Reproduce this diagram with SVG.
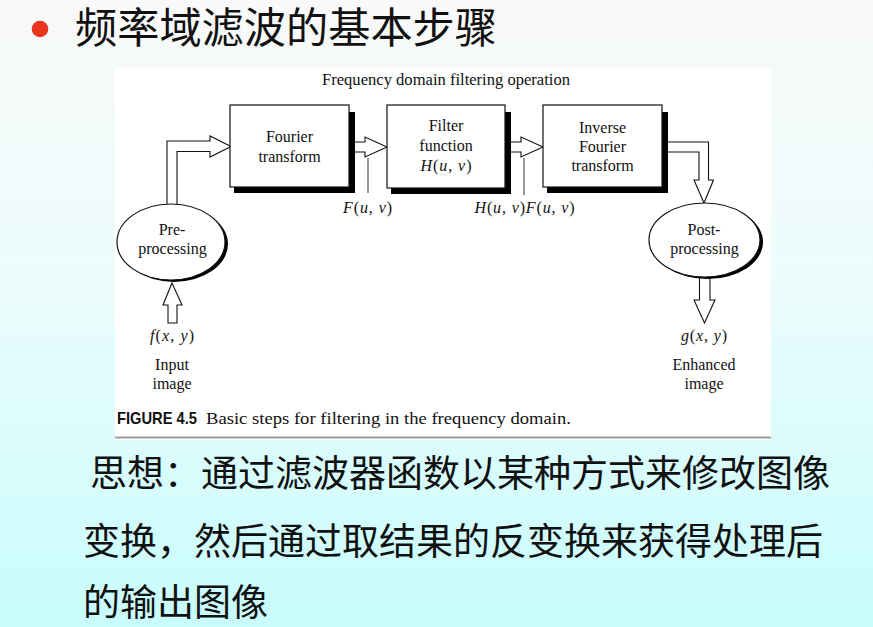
<svg xmlns="http://www.w3.org/2000/svg" width="873" height="627" viewBox="0 0 873 627">
<defs>
<linearGradient id="bg" x1="0" y1="0" x2="0" y2="1">
<stop offset="0" stop-color="#f9f9f9"/>
<stop offset="0.45" stop-color="#ecfcfc"/>
<stop offset="1" stop-color="#c8fcfc"/>
</linearGradient>
<style>
.serif{font-family:"Liberation Serif","Times New Roman",serif;font-size:16px;fill:#111}
.mid{text-anchor:middle}
.it{font-style:italic}
.box{fill:#fff;stroke:#111;stroke-width:1.2}
.shadow{fill:#000}
.arrow{fill:#fff;stroke:#111;stroke-width:1.1;stroke-linejoin:miter}
.tick{stroke:#333;stroke-width:1}
.cjk{font-family:"Noto Sans CJK SC","Noto Sans CJK TC",sans-serif;fill:#111}
</style>
</defs>
<rect x="0" y="0" width="873" height="627" fill="url(#bg)"/>
<g id="title">
<circle cx="40" cy="29" r="8.3" fill="#e8341c"/>
<text class="cjk" x="75" y="43" font-size="42" textLength="422" lengthAdjust="spacingAndGlyphs">频率域滤波的基本步骤</text>
</g>
<g id="figure-panel">
<rect x="115" y="68" width="656" height="372" fill="#fff"/>
<text class="serif mid" x="446" y="85" textLength="248" lengthAdjust="spacingAndGlyphs">Frequency domain filtering operation</text>
<line x1="115" y1="437.5" x2="771" y2="437.5" stroke="#9a9a9a" stroke-width="2"/>
<text x="117" y="424" font-family="'Liberation Sans',Arial,sans-serif" font-weight="bold" font-size="17" fill="#111" textLength="80" lengthAdjust="spacingAndGlyphs">FIGURE 4.5</text>
<text class="serif" x="206" y="424" style="font-size:17px" textLength="365" lengthAdjust="spacingAndGlyphs">Basic steps for filtering in the frequency domain.</text>
</g>
<g id="connectors">
<polygon class="arrow" points="167,216 167,141 210,141 210,136 231,146.5 210,157 210,151.5 177,151.5 177,216"/>
<polygon class="arrow" points="349,142 365,142 365,137 387,147 365,157 365,152 349,152"/>
<polygon class="arrow" points="505,142 521,142 521,137 543,147 521,157 521,152 505,152"/>
<polygon class="arrow" points="662,142 708.5,142 708.5,180 713.5,180 704,203 694,180 699,180 699,152 662,152"/>
<polygon class="arrow" points="172,283 182,305 177,305 177,323 168,323 168,305 163,305"/>
<polygon class="arrow" points="699.5,270 710,270 710,300 715,300 704.5,323 694,300 699.5,300"/>
<line class="tick" x1="368" y1="158" x2="368" y2="193"/>
<line class="tick" x1="524" y1="158" x2="524" y2="195"/>
<text class="serif mid" x="367.5" y="213" textLength="49" lengthAdjust="spacing"><tspan class="it">F</tspan>(<tspan class="it">u</tspan>, <tspan class="it">v</tspan>)</text>
<text class="serif mid" x="524.5" y="213" textLength="100" lengthAdjust="spacing"><tspan class="it">H</tspan>(<tspan class="it">u</tspan>, <tspan class="it">v</tspan>)<tspan class="it">F</tspan>(<tspan class="it">u</tspan>, <tspan class="it">v</tspan>)</text>
</g>
<g id="node-fourier">
<path class="shadow" d="M349,112 H355 V193 H234 V187 H349 Z"/>
<rect class="box" x="230" y="105" width="119" height="82"/>
<text class="serif mid" x="289.5" y="142">Fourier</text>
<text class="serif mid" x="289.5" y="162">transform</text>
</g>
<g id="node-filter">
<path class="shadow" d="M505,112 H511 V194 H391 V188 H505 Z"/>
<rect class="box" x="387" y="105" width="118" height="83"/>
<text class="serif mid" x="446" y="131">Filter</text>
<text class="serif mid" x="446" y="151">function</text>
<text class="serif mid" x="446" y="171" textLength="51" lengthAdjust="spacing"><tspan class="it">H</tspan>(<tspan class="it">u</tspan>, <tspan class="it">v</tspan>)</text>
</g>
<g id="node-inverse">
<path class="shadow" d="M662,112 H668 V193 H547 V187 H662 Z"/>
<rect class="box" x="543" y="105" width="119" height="82"/>
<text class="serif mid" x="602.5" y="133">Inverse</text>
<text class="serif mid" x="602.5" y="152">Fourier</text>
<text class="serif mid" x="602.5" y="171">transform</text>
</g>
<g id="node-pre">
<ellipse class="shadow" cx="174" cy="244" rx="54" ry="38"/>
<ellipse class="box" cx="171" cy="242" rx="54" ry="38"/>
<text class="serif mid" x="172" y="235">Pre-</text>
<text class="serif mid" x="172.5" y="254">processing</text>
</g>
<g id="node-post">
<ellipse class="shadow" cx="707.5" cy="242" rx="55.5" ry="37"/>
<ellipse class="box" cx="704.5" cy="240" rx="55.5" ry="37"/>
<text class="serif mid" x="704" y="235">Post-</text>
<text class="serif mid" x="704.5" y="254">processing</text>
</g>
<g id="node-input">
<text class="serif mid" x="172" y="341" textLength="44" lengthAdjust="spacing"><tspan class="it">f</tspan>(<tspan class="it">x</tspan>, <tspan class="it">y</tspan>)</text>
<text class="serif mid" x="172" y="370">Input</text>
<text class="serif mid" x="172" y="389">image</text>
</g>
<g id="node-output">
<text class="serif mid" x="704" y="341" textLength="46" lengthAdjust="spacing"><tspan class="it">g</tspan>(<tspan class="it">x</tspan>, <tspan class="it">y</tspan>)</text>
<text class="serif mid" x="704" y="370">Enhanced</text>
<text class="serif mid" x="704" y="389">image</text>
</g>
<g id="body-text">
<text class="cjk" x="90" y="487" font-size="37">思想：通过滤波器函数以某种方式来修改图像</text>
<text class="cjk" x="83" y="555" font-size="37">变换，然后通过取结果的反变换来获得处理后</text>
<text class="cjk" x="83" y="616" font-size="37">的输出图像</text>
</g>
</svg>
